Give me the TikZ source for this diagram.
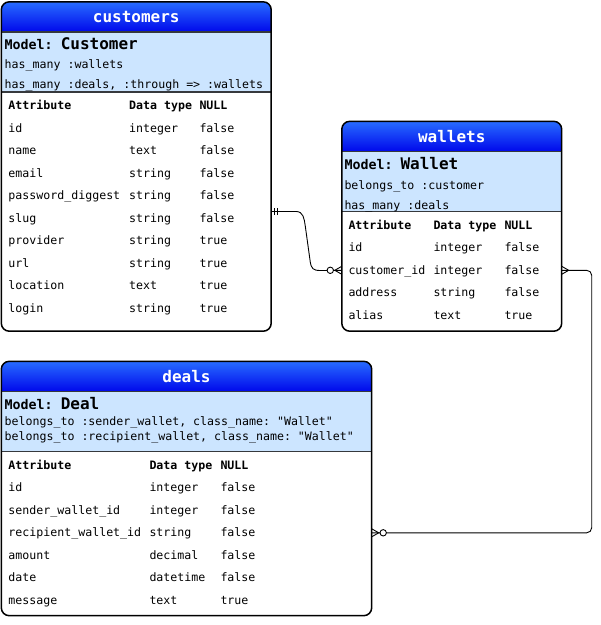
\documentclass[tikz,border=0pt]{standalone}
\usepackage{fontspec}
\setmonofont{DejaVu Sans Mono}
\usepackage{tikz}
\usetikzlibrary{calc}

\definecolor{hdtop}{RGB}{40,108,255}
\definecolor{hdbot}{RGB}{0,8,235}
\definecolor{modelbg}{HTML}{CCE5FF}
\definecolor{sepgray}{HTML}{36393D}

\newcommand{\tabfont}{\ttfamily\fontsize{11.6}{13}\selectfont}
\newcommand{\titlefont}{\ttfamily\bfseries\fontsize{16}{18}\selectfont}
\newcommand{\modelfont}{\ttfamily\bfseries\fontsize{13.3}{15}\selectfont}

\begin{document}
\begin{tikzpicture}[x=1pt, y=-1pt, font=\tabfont,
  entity/.style={fill=white, inner sep=0pt},
  frame/.style={draw=black, line width=1.5pt, rounded corners=8pt},
  sepline/.style={draw=sepgray, line width=1.5pt},
  title/.style={anchor=base, inner sep=0pt, text=white, font=\titlefont},
  modeltext/.style={anchor=base west, inner sep=0pt},
  cell/.style={anchor=base west, inner sep=0pt, text height=8pt, text depth=0pt},
  hcell/.style={cell, font=\tabfont\bfseries},
  rel/.style={line width=0.9pt, black},
  mandone/.pic={\draw[rel] (3,-3.5) -- (3,3.5) (6,-3.5) -- (6,3.5);},
  crowmany/.pic={\draw[rel] (0,-4) -- (7,0) -- (0,4);},
  zeromany/.pic={\draw[rel] (0,-4) -- (7,0) -- (0,4); \draw[rel, fill=white] (11.5,0) circle (3.2);}]

\useasboundingbox (0,0) rectangle (601,625);

\node[entity, minimum width=269.5pt, minimum height=329pt] (cust) at (136.25,166.5) {};
\node[entity, minimum width=219.5pt, minimum height=209.5pt] (wal) at (451.75,226.25) {};
\node[entity, minimum width=370pt, minimum height=254pt] (dal) at (186.5,488.5) {};

% header, model band and frame of each table
\foreach \e in {cust,wal,dal}{
  \begin{scope}
    \clip[rounded corners=8pt] (\e.north west) rectangle (\e.south east);
    \shade[top color=hdtop, bottom color=hdbot] (\e.north west) rectangle ($(\e.north east)+(0,30)$);
    \fill[modelbg] ($(\e.north west)+(0,30)$) rectangle ($(\e.north east)+(0,90)$);
  \end{scope}
  \draw[sepline] ($(\e.north west)+(0,30)$) -- ($(\e.north east)+(0,30)$);
  \draw[sepline] ($(\e.north west)+(0,90)$) -- ($(\e.north east)+(0,90)$);
  \draw[frame] (\e.north west) rectangle (\e.south east);
}

% customers
\node[title] (custtitle) at (136.25,22.5) {customers};
\node[modeltext] (custmodel) at (4.5,49.5) {\modelfont Model: {\titlefont Customer}};
\node[modeltext] (custrel1) at (4.5,68.5) {has\_many :wallets};
\node[modeltext] (custrel2) at (4.5,88.5) {has\_many :deals, :through => :wallets};
\node[hcell] (chA) at (8.3,109.5) {Attribute};
\node[hcell] (chT) at (129,109.5) {Data type};
\node[hcell] (chN) at (199.3,109.5) {NULL};
\foreach \a/\t/\n [count=\i] in {id/integer/false, name/text/false, email/string/false,
    password\_diggest/string/false, slug/string/false, provider/string/true,
    url/string/true, location/text/true, login/string/true}{
  \node[cell] (c\i a) at (8.3,{109.5+22.5*\i}) {\a};
  \node[cell] (c\i t) at (129,{109.5+22.5*\i}) {\t};
  \node[cell] (c\i n) at (199.3,{109.5+22.5*\i}) {\n};
}

% wallets
\node[title] (waltitle) at (451.75,142.3) {wallets};
\node[modeltext] (walmodel) at (344.3,169.3) {\modelfont Model: {\titlefont Wallet}};
\node[modeltext] (walrel1) at (344.3,189) {belongs\_to :customer};
\node[modeltext] (walrel2) at (344.3,209) {has\_many :deals};
\node[hcell] (whA) at (348.3,229.3) {Attribute};
\node[hcell] (whT) at (433.3,229.3) {Data type};
\node[hcell] (whN) at (504.3,229.3) {NULL};
\foreach \a/\t/\n [count=\i] in {id/integer/false, customer\_id/integer/false,
    address/string/false, alias/text/true}{
  \node[cell] (w\i a) at (348.3,{229.3+22.5*\i}) {\a};
  \node[cell] (w\i t) at (433.3,{229.3+22.5*\i}) {\t};
  \node[cell] (w\i n) at (504.3,{229.3+22.5*\i}) {\n};
}

% deals
\node[title] (daltitle) at (186.5,382.3) {deals};
\node[modeltext] (dalmodel) at (4.5,409.3) {\modelfont Model: {\titlefont Deal}};
\node[modeltext] (dalrel1) at (4.5,425) {belongs\_to :sender\_wallet, class\_name: "Wallet"};
\node[modeltext] (dalrel2) at (4.5,440) {belongs\_to :recipient\_wallet, class\_name: "Wallet"};
\node[hcell] (dhA) at (8.3,469.3) {Attribute};
\node[hcell] (dhT) at (149.3,469.3) {Data type};
\node[hcell] (dhN) at (220.3,469.3) {NULL};
\foreach \a/\t/\n [count=\i] in {id/integer/false, sender\_wallet\_id/integer/false,
    recipient\_wallet\_id/string/false, amount/decimal/false,
    date/datetime/false, message/text/true}{
  \node[cell] (d\i a) at (8.3,{469.3+22.5*\i}) {\a};
  \node[cell] (d\i t) at (149.3,{469.3+22.5*\i}) {\t};
  \node[cell] (d\i n) at (220.3,{469.3+22.5*\i}) {\n};
}

% relations
\draw[rel] ([yshift=-45pt]cust.east) -- ++(25,0) .. controls +(7,0) and +(-1,-7) .. ++(9,14)
  -- ++(5,36) .. controls +(1,7) and +(-7,0) .. ++(10,9) -- (wal.west |- w2a);
\draw[rel, rounded corners=5pt] (wal.east |- w2a) -- ++(30,0) |- (dal.east |- d3a);

\pic at ([yshift=-45pt]cust.east) {mandone};
\pic[rotate=180] at (wal.west |- w2a) {zeromany};
\pic at (wal.east |- w2a) {crowmany};
\pic at (dal.east |- d3a) {zeromany};
\end{tikzpicture}
\end{document}
